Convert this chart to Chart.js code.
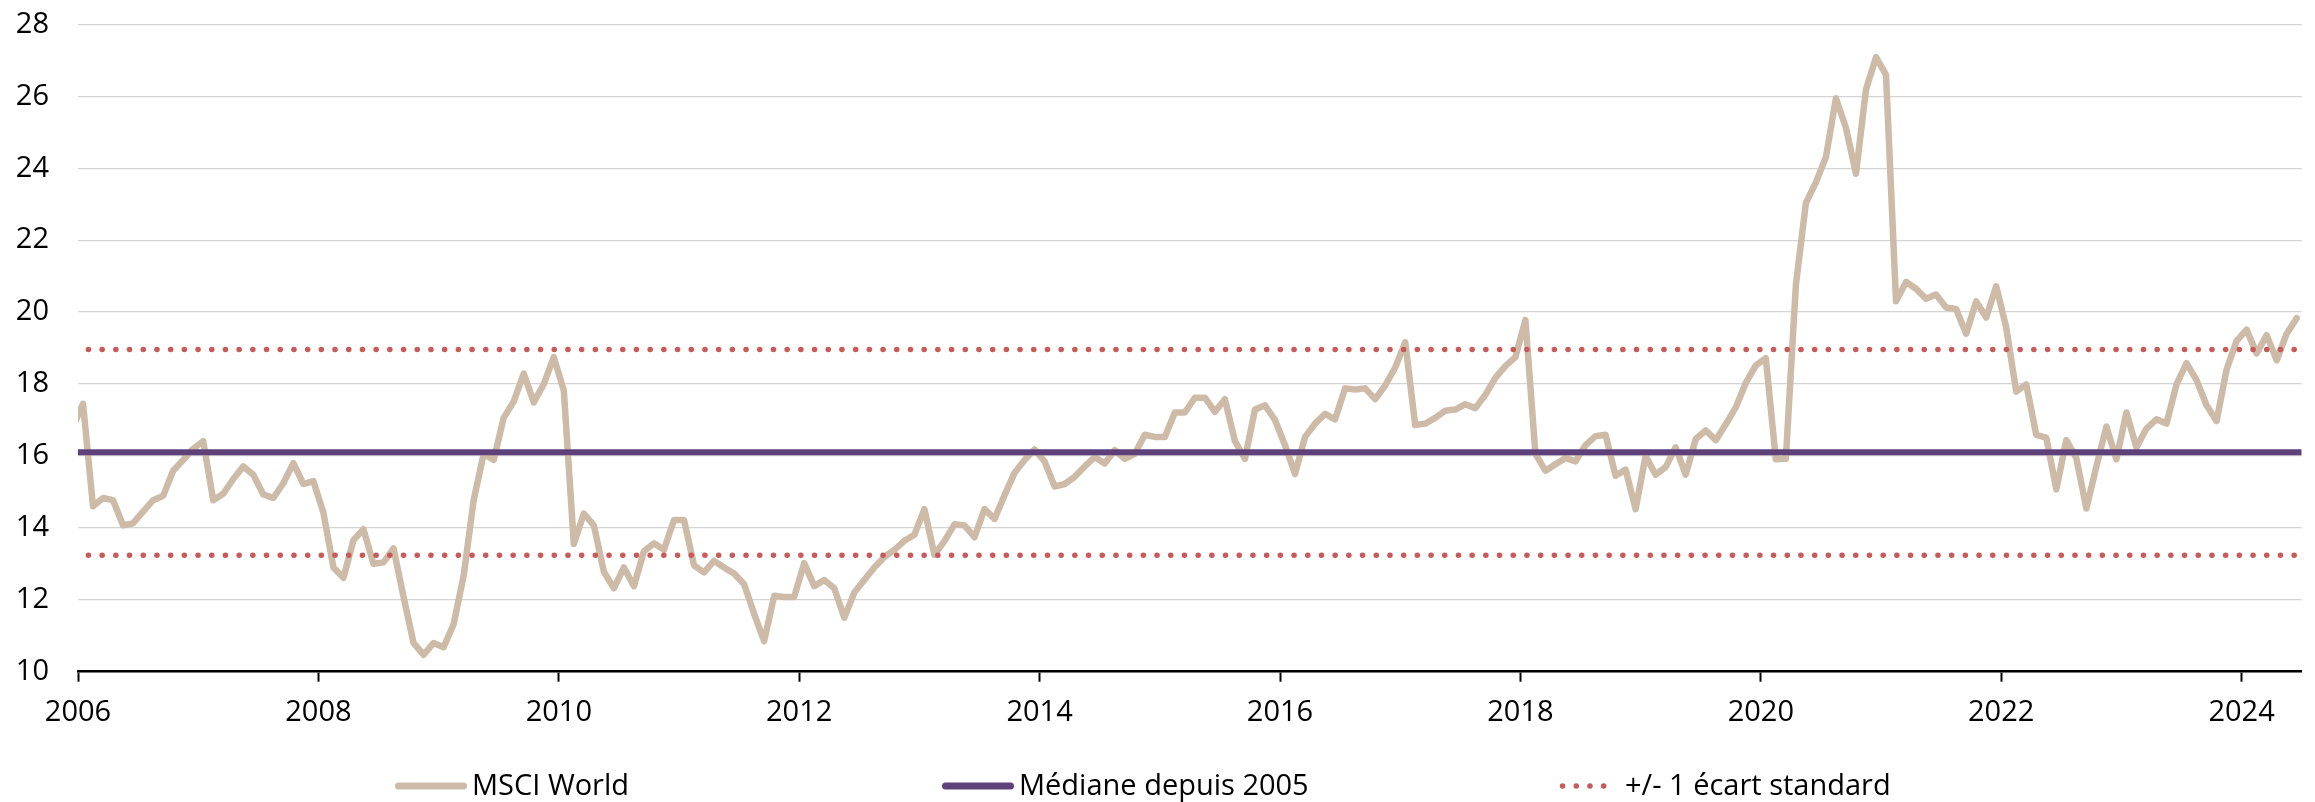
<!DOCTYPE html>
<html lang="fr">
<head>
<meta charset="utf-8">
<title>MSCI World - PER</title>
<script src="https://cdn.jsdelivr.net/npm/chart.js@4/dist/chart.umd.min.js"></script>
<style>
  html, body { margin: 0; padding: 0; background: #fff; }
  #graphique { display: block; }
</style>
</head>
<body>
<canvas id="graphique" width="2315" height="802"></canvas>
<script>
// donnees mensuelles, de dec. 2005 a juin 2024
const debutSerie = { annee: 2005, mois: 12 };
const msciWorld = [
  16.8,
  17.45, 14.6, 14.83, 14.77, 14.07, 14.13, 14.45, 14.77, 14.89, 15.59, 15.89, 16.2,   // 2006
  16.41, 14.77, 14.95, 15.36, 15.71, 15.48, 14.93, 14.83, 15.24, 15.8, 15.22, 15.3,   // 2007
  14.42, 12.9, 12.61, 13.66, 13.96, 13.0, 13.04, 13.43, 12.08, 10.8, 10.47, 10.8,     // 2008
  10.68, 11.32, 12.67, 14.77, 16.06, 15.89, 17.06, 17.52, 18.29, 17.49, 18.0, 18.75,  // 2009
  17.82, 13.55, 14.4, 14.07, 12.78, 12.32, 12.9, 12.38, 13.35, 13.57, 13.39, 14.22,   // 2010
  14.22, 12.96, 12.76, 13.08, 12.9, 12.73, 12.43, 11.61, 10.85, 12.11, 12.08, 12.08,  // 2011
  13.02, 12.38, 12.55, 12.32, 11.5, 12.2, 12.55, 12.9, 13.19, 13.39, 13.64, 13.81,    // 2012
  14.52, 13.25, 13.63, 14.1, 14.07, 13.74, 14.52, 14.25, 14.91, 15.53, 15.89, 16.18,  // 2013
  15.85, 15.15, 15.22, 15.42, 15.71, 15.97, 15.79, 16.16, 15.92, 16.06, 16.59, 16.53, // 2014
  16.53, 17.21, 17.21, 17.62, 17.62, 17.23, 17.58, 16.41, 15.92, 17.29, 17.41, 17.0,  // 2015
  16.3, 15.5, 16.53, 16.9, 17.17, 17.02, 17.88, 17.85, 17.88, 17.58, 17.96, 18.46,    // 2016
  19.16, 16.86, 16.9, 17.06, 17.26, 17.29, 17.44, 17.33, 17.7, 18.17, 18.5, 18.75,    // 2017
  19.78, 16.06, 15.59, 15.77, 15.94, 15.85, 16.3, 16.55, 16.59, 15.45, 15.62, 14.52,  // 2018
  16.0, 15.48, 15.69, 16.24, 15.48, 16.47, 16.71, 16.44, 16.88, 17.35, 18.03, 18.52,  // 2019
  18.72, 15.91, 15.92, 20.75, 23.03, 23.61, 24.31, 25.95, 25.13, 23.85, 26.19, 27.09, // 2020
  26.6, 20.3, 20.84, 20.65, 20.37, 20.49, 20.13, 20.09, 19.4, 20.3, 19.85, 20.72,     // 2021
  19.57, 17.79, 17.99, 16.59, 16.51, 15.07, 16.44, 15.94, 14.54, 15.71, 16.82, 15.91, // 2022
  17.21, 16.24, 16.76, 17.02, 16.9, 17.99, 18.58, 18.11, 17.41, 16.97, 18.4, 19.2,    // 2023
  19.51, 18.85, 19.36, 18.66, 19.4, 19.83                                             // 2024
];
const medianeDepuis2005 = [16.1, 16.1];
const ecartHaut = [18.96, 18.96];
const ecartBas = [13.24, 13.24];
const bornesX = [2006, 2024.5];
const ticksX = [2006, 2008, 2010, 2012, 2014, 2016, 2018, 2020, 2022, 2024];
const ticksY = [10, 12, 14, 16, 18, 20, 22, 24, 26, 28];
const libelles = ['MSCI World', 'Médiane depuis 2005', '+/- 1 écart standard'];

const couleurs = {
  msci: '#cdbba8',
  mediane: '#5f417a',
  ecart: '#c85a5a',
  grille: '#d4d4d4'
};

// position au milieu de chaque mois
const pointsMsci = msciWorld.map((v, i) => ({
  x: debutSerie.annee + (debutSerie.mois - 1 + i + 0.5) / 12,
  y: v
}));
const ligneHorizontale = vals => bornesX.map((x, i) => ({ x: x, y: vals[i] }));

const police = "'Open Sans', 'Noto Sans', sans-serif";
Chart.defaults.font.family = police;
Chart.defaults.font.size = 29;
Chart.defaults.color = '#000';

const pointilles = {
  borderColor: couleurs.ecart,
  borderWidth: 5.5,
  borderDash: [0.1, 13.6],
  borderDashOffset: 3.3,
  borderCapStyle: 'round',
  pointRadius: 0,
  clip: 0,
  order: 0
};

// legende dessinee a la main pour garder les ecarts de l'original
const legendeY = 786;
const legendeItems = [
  { dataset: 0, x: 395, largeur: 72 },
  { dataset: 1, x: 942, largeur: 72 },
  { dataset: 2, x: 1559, largeur: 61 }
];

const legendeBas = {
  id: 'legendeBas',
  afterDraw(chart) {
    const ctx = chart.ctx;
    ctx.save();
    legendeItems.forEach((item, i) => {
      const ds = chart.data.datasets[item.dataset];
      ctx.beginPath();
      ctx.strokeStyle = ds.borderColor;
      ctx.lineWidth = ds.borderDash ? ds.borderWidth : 7;
      ctx.lineCap = 'round';
      ctx.setLineDash(ds.borderDash || []);
      ctx.moveTo(item.x + 3.5, legendeY);
      ctx.lineTo(item.x + item.largeur - 3.5, legendeY);
      ctx.stroke();
      ctx.setLineDash([]);
      ctx.fillStyle = '#000';
      ctx.font = '29px ' + police;
      ctx.textBaseline = 'alphabetic';
      ctx.textAlign = 'left';
      ctx.fillText(libelles[i], item.x + item.largeur + 5, 794.5);
    });
    ctx.restore();
  }
};

const ctx = document.getElementById('graphique').getContext('2d');
new Chart(ctx, {
  type: 'line',
  data: {
    datasets: [
      {
        label: libelles[0],
        data: pointsMsci,
        borderColor: couleurs.msci,
        borderWidth: 6.5,
        borderJoinStyle: 'round',
        borderCapStyle: 'round',
        pointRadius: 0,
        tension: 0,
        clip: 0,
        order: 2
      },
      {
        label: libelles[1],
        data: ligneHorizontale(medianeDepuis2005),
        borderColor: couleurs.mediane,
        borderWidth: 6,
        pointRadius: 0,
        clip: 0,
        order: 1
      },
      Object.assign({ label: libelles[2], data: ligneHorizontale(ecartHaut) }, pointilles),
      Object.assign({ label: libelles[2] + ' (bas)', data: ligneHorizontale(ecartBas) }, pointilles)
    ]
  },
  options: {
    responsive: false,
    animation: false,
    layout: { padding: { top: 24.5, right: 13.3, bottom: 0, left: 0 } },
    plugins: {
      legend: { display: false },
      tooltip: { enabled: false }
    },
    scales: {
      x: {
        type: 'linear',
        min: bornesX[0],
        max: bornesX[1],
        afterBuildTicks: axe => { axe.ticks = ticksX.map(v => ({ value: v })); },
        afterFit: axe => { axe.height = 130.3; },
        ticks: {
          autoSkip: false,
          maxRotation: 0,
          padding: 14,
          callback: v => String(v)
        },
        grid: {
          drawOnChartArea: false,
          drawTicks: true,
          tickLength: 10,
          tickColor: '#000',
          tickWidth: 2
        },
        border: { display: true, color: '#000', width: 2.5 }
      },
      y: {
        min: 10,
        max: 28,
        afterBuildTicks: axe => { axe.ticks = ticksY.map(v => ({ value: v })); },
        afterFit: axe => { axe.width = 78; },
        ticks: { padding: 0 },
        grid: {
          color: couleurs.grille,
          lineWidth: 1.3,
          drawTicks: true,
          tickLength: 29,
          tickColor: 'rgba(0,0,0,0)'
        },
        border: { display: false }
      }
    }
  },
  plugins: [legendeBas]
});
</script>
</body>
</html>
